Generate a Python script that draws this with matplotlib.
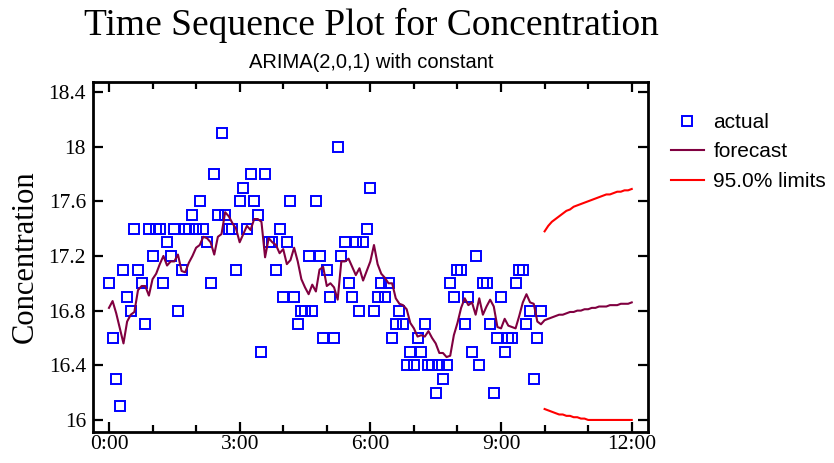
import numpy as np
import matplotlib
matplotlib.use("Agg")
import matplotlib.pyplot as plt
from matplotlib.ticker import FixedLocator, FuncFormatter

# Concentration readings, one every 5 minutes starting at 0:00
actual = [17.0, 16.6, 16.3, 16.1, 17.1, 16.9, 16.8, 17.4, 17.1, 17.0,
          16.7, 17.4, 17.2, 17.4, 17.4, 17.0, 17.3, 17.2, 17.4, 16.8,
          17.1, 17.4, 17.4, 17.5, 17.4, 17.6, 17.4, 17.3, 17.0, 17.8,
          17.5, 18.1, 17.5, 17.4, 17.4, 17.1, 17.6, 17.7, 17.4, 17.8,
          17.6, 17.5, 16.5, 17.8, 17.3, 17.3, 17.1, 17.4, 16.9, 17.3,
          17.6, 16.9, 16.7, 16.8, 16.8, 17.2, 16.8, 17.6, 17.2, 16.6,
          17.1, 16.9, 16.6, 18.0, 17.2, 17.3, 17.0, 16.9, 17.3, 16.8,
          17.3, 17.4, 17.7, 16.8, 16.9, 17.0, 16.9, 17.0, 16.6, 16.7,
          16.8, 16.7, 16.4, 16.5, 16.4, 16.6, 16.5, 16.7, 16.4, 16.4,
          16.2, 16.4, 16.3, 16.4, 17.0, 16.9, 17.1, 17.1, 16.7, 16.9,
          16.5, 17.2, 16.4, 17.0, 17.0, 16.7, 16.2, 16.6, 16.9, 16.5,
          16.6, 16.6, 17.0, 17.1, 17.1, 16.7, 16.8, 16.3, 16.6, 16.8]

# one-step-ahead forecasts (fitted) followed by forecasts 10:00 - 12:00
forecast = [16.82, 16.87, 16.78, 16.67, 16.56, 16.72, 16.77, 16.79, 16.95, 16.98,
            16.98, 16.91, 17.03, 17.07, 17.14, 17.20, 17.13, 17.16, 17.16, 17.21,
            17.09, 17.08, 17.15, 17.20, 17.26, 17.28, 17.34, 17.33, 17.30, 17.21,
            17.34, 17.36, 17.52, 17.49, 17.44, 17.40, 17.30, 17.36, 17.42, 17.39,
            17.47, 17.47, 17.45, 17.19, 17.33, 17.30, 17.28, 17.22, 17.25, 17.14,
            17.17, 17.26, 17.16, 17.03, 16.97, 16.92, 16.99, 16.94, 17.10, 17.12,
            16.98, 17.00, 16.97, 16.88, 17.16, 17.16, 17.18, 17.12, 17.06, 17.11,
            17.02, 17.09, 17.16, 17.28, 17.14, 17.07, 17.04, 17.00, 17.00, 16.89,
            16.85, 16.84, 16.81, 16.71, 16.67, 16.61, 16.62, 16.61, 16.65, 16.60,
            16.56, 16.49, 16.49, 16.46, 16.47, 16.62, 16.71, 16.82, 16.89, 16.84,
            16.86, 16.77, 16.89, 16.77, 16.83, 16.88, 16.83, 16.68, 16.67, 16.74,
            16.69, 16.68, 16.67, 16.76, 16.86, 16.92, 16.86, 16.85, 16.72, 16.70,
            16.73, 16.74, 16.75, 16.76, 16.77, 16.77, 16.78, 16.79, 16.79, 16.80,
            16.80, 16.81, 16.81, 16.82, 16.82, 16.83, 16.83, 16.83, 16.84, 16.84,
            16.84, 16.85, 16.85, 16.85, 16.86]

upper = [17.38, 17.42, 17.45, 17.47, 17.49, 17.51, 17.53, 17.54, 17.56, 17.57,
         17.58, 17.59, 17.60, 17.61, 17.62, 17.63, 17.64, 17.65, 17.65, 17.66,
         17.67, 17.67, 17.68, 17.68, 17.69]
lower = [16.08, 16.07, 16.06, 16.05, 16.04, 16.04, 16.03, 16.03, 16.02, 16.02,
         16.01, 16.01, 16.00, 16.00, 16.00, 16.00, 16.00, 16.00, 16.00, 16.00,
         16.00, 16.00, 16.00, 16.00, 16.00]

step = 5  # minutes
t_act = np.arange(len(actual)) * step
t_fc = np.arange(len(forecast)) * step
t_lim = t_fc[-len(upper):]

serif = ["Liberation Serif", "DejaVu Serif"]
sans = ["Liberation Sans", "DejaVu Sans"]

fig = plt.figure(figsize=(8.34, 4.63), dpi=100)
ax = fig.add_axes([0.1115, 0.067, 0.666, 0.756])

ax.plot(t_act, actual, linestyle="none", marker="s", markersize=7,
        markerfacecolor="none", markeredgecolor="#0000ff", markeredgewidth=1.4,
        label="actual")
ax.plot(t_fc, forecast, color="#800040", linewidth=1.5, label="forecast")
ax.plot(t_lim, upper, color="#ff0000", linewidth=1.5, label="95.0% limits")
ax.plot(t_lim, lower, color="#ff0000", linewidth=1.5)

ax.set_xlim(-22, 743)
ax.set_ylim(15.912, 18.473)

ax.xaxis.set_major_locator(FixedLocator([0, 180, 360, 540, 720]))
ax.xaxis.set_minor_locator(FixedLocator(np.arange(0, 721, 60)))
ax.xaxis.set_major_formatter(FuncFormatter(lambda v, p: "%d:%02d" % (v // 60, v % 60)))
ax.set_yticks([16, 16.4, 16.8, 17.2, 17.6, 18, 18.4])
ax.set_yticklabels(["16", "16.4", "16.8", "17.2", "17.6", "18", "18.4"])

ax.tick_params(which="both", direction="in", top=True, right=True, width=1.6,
               labelsize=15.5)
ax.tick_params(which="major", length=7)
ax.tick_params(which="minor", length=5)
ax.tick_params(axis="x", which="major", pad=2)
ax.tick_params(axis="y", which="major", pad=5)
for lab in ax.get_xticklabels() + ax.get_yticklabels():
    lab.set_family(serif)
for s in ax.spines.values():
    s.set_linewidth(2)

ax.set_ylabel("Concentration", family=serif, fontsize=22, labelpad=6)

fig.text(0.445, 0.945, "Time Sequence Plot for Concentration", family=serif,
         fontsize=27, ha="center", va="center")
fig.text(0.445, 0.865, "ARIMA(2,0,1) with constant", family=sans,
         fontsize=14.5, ha="center", va="center")

leg = ax.legend(loc="upper left", bbox_to_anchor=(1.025, 0.935), frameon=False,
                prop={"family": sans, "size": 15}, handlelength=1.6,
                handletextpad=0.45, labelspacing=0.5, borderaxespad=0)

fig.savefig("out.png", dpi=100)
